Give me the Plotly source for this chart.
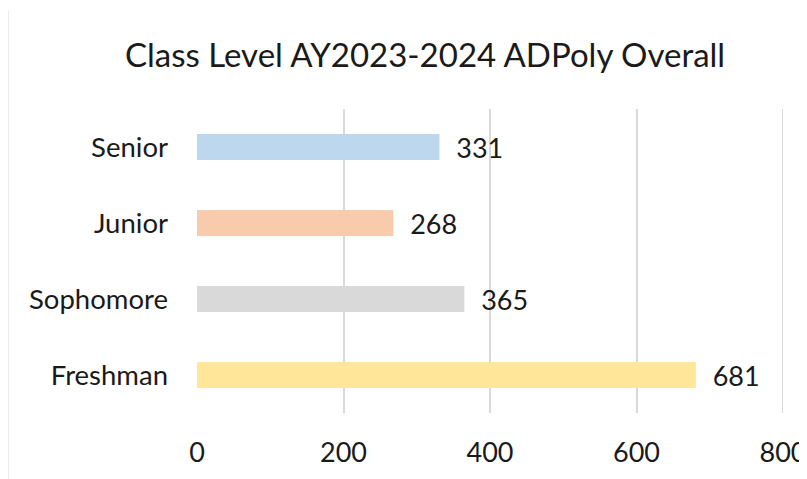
import plotly.graph_objects as go

categories = ["Freshman", "Sophomore", "Junior", "Senior"]
values = [681, 365, 268, 331]
colors = ["#FFE699", "#D9D9D9", "#F8CBAD", "#BDD7EE"]
x_ticks = [0, 200, 400, 600, 800]

fig = go.Figure(go.Bar(
    y=categories, x=values, orientation="h",
    marker=dict(color=colors, line=dict(width=0)),
    width=0.34,
    text=values, texttemplate="  %{x}", textposition="outside",
    constraintext="none",
    textfont=dict(family="Lato", size=27, color="#1a1a1a"),
    cliponaxis=False,
))

fig.update_layout(
    width=799, height=471,
    margin=dict(l=189, r=24, t=101, b=66, autoexpand=False),
    paper_bgcolor="white", plot_bgcolor="white",
    showlegend=False,
    title=dict(text="Class Level AY2023-2024 ADPoly Overall",
               font=dict(family="Lato", size=33, color="#1a1a1a"),
               x=0.522, xanchor="center", y=0.9, yanchor="middle"),
    xaxis=dict(range=[0, 800], tickvals=x_ticks, showgrid=True,
               gridcolor="#D9D9D9", gridwidth=2, zeroline=False,
               showline=False, ticks="", ticklabelstandoff=21,
               automargin=False,
               tickfont=dict(family="Lato", size=27, color="#1a1a1a")),
    yaxis=dict(categoryorder="array", categoryarray=categories,
               range=[-0.5, 3.5], showgrid=False, zeroline=False,
               showline=False, ticks="", ticklabelstandoff=28,
               automargin=False,
               tickfont=dict(family="Lato", size=27.5, color="#1a1a1a")),
    shapes=[
        dict(type="line", xref="paper", yref="paper",
             x0=-0.3225, x1=-0.3225, y0=1.3257, y1=-0.23,
             line=dict(color="#D9D9D9", width=1)),
        dict(type="line", xref="x", yref="paper",
             x0=800, x1=800, y0=0, y1=1,
             line=dict(color="#D9D9D9", width=2), layer="below"),
    ],
)

fig.write_html("out.html")
